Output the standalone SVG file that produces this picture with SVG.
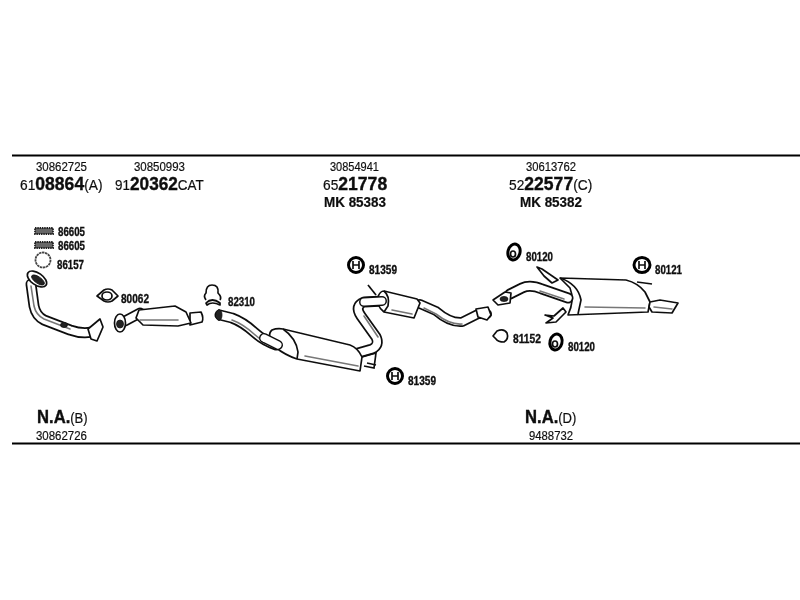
<svg xmlns="http://www.w3.org/2000/svg" width="800" height="600" viewBox="0 0 800 600">
<defs>
<filter id="soft" x="-5%" y="-5%" width="110%" height="110%"><feGaussianBlur stdDeviation="0.45"/></filter>
</defs>
<style>
text{font-family:"Liberation Sans",Arial,sans-serif;fill:#111}
.n{font-size:13px;stroke:#111;stroke-width:.2}
.h{font-size:14.5px;stroke:#111;stroke-width:.2}
.b{font-size:18.5px;font-weight:bold;stroke-width:.4}
.m{font-size:14.5px;font-weight:bold;stroke:#111;stroke-width:.2}
.l{font-size:12px;font-weight:bold;stroke:#111;stroke-width:.35}
.rule{stroke:#000;stroke-width:2.2;fill:none}
.o{fill:none;stroke:#111;stroke-linecap:round;stroke-linejoin:round}
.w{fill:none;stroke:#fff;stroke-linecap:round;stroke-linejoin:round}
.g{fill:none;stroke:#777;stroke-width:1.6;stroke-linecap:round;stroke-linejoin:round}
.f{fill:#fff;stroke:#111;stroke-width:1.7;stroke-linejoin:round}
.d{fill:#222;stroke:#111;stroke-width:.8}
.i{fill:#fff;stroke:#000;stroke-width:3}
.t{fill:none;stroke:#111;stroke-width:1.7}
</style>
<rect width="800" height="600" fill="#fff"/>
<g filter="url(#soft)">
<g id="rules">
<line class="rule" x1="12" y1="155.5" x2="800" y2="155.5"/>
<line class="rule" x1="12" y1="443.5" x2="800" y2="443.5"/>
</g>

<g id="header-1">
<text class="n" x="36" y="170.5" textLength="51" lengthAdjust="spacingAndGlyphs">30862725</text>
<text class="h" transform="translate(20 190) scale(.95 1)">61<tspan class="b">08864</tspan>(A)</text>
</g>
<g id="header-2">
<text class="n" x="134" y="170.5" textLength="51" lengthAdjust="spacingAndGlyphs">30850993</text>
<text class="h" transform="translate(115 190) scale(.93 1)">91<tspan class="b">20362</tspan>CAT</text>
</g>
<g id="header-3">
<text class="n" x="330" y="170.5" textLength="49" lengthAdjust="spacingAndGlyphs">30854941</text>
<text class="h" transform="translate(323 190) scale(.95 1)">65<tspan class="b">21778</tspan></text>
<text class="m" x="324" y="207" textLength="62" lengthAdjust="spacingAndGlyphs">MK 85383</text>
</g>
<g id="header-4">
<text class="n" x="526" y="170.5" textLength="50" lengthAdjust="spacingAndGlyphs">30613762</text>
<text class="h" transform="translate(509 190) scale(.95 1)">52<tspan class="b">22577</tspan>(C)</text>
<text class="m" x="520" y="207" textLength="62" lengthAdjust="spacingAndGlyphs">MK 85382</text>
</g>
<g id="footer-1">
<text class="h" transform="translate(37 423) scale(.9 1)"><tspan class="b">N.A.</tspan>(B)</text>
<text class="n" x="36" y="440" textLength="51" lengthAdjust="spacingAndGlyphs">30862726</text>
</g>
<g id="footer-2">
<text class="h" transform="translate(525 423) scale(.9 1)"><tspan class="b">N.A.</tspan>(D)</text>
<text class="n" x="529" y="440" textLength="44" lengthAdjust="spacingAndGlyphs">9488732</text>
</g>

<g id="gasket-86605a">
<rect x="35" y="228" width="18" height="6" fill="#666" stroke="#222" stroke-width="1.8" stroke-dasharray="1.5 .8"/>
<text class="l" x="58" y="235.5" textLength="27" lengthAdjust="spacingAndGlyphs">86605</text>
</g>
<g id="gasket-86605b">
<rect x="35" y="242" width="18" height="6" fill="#666" stroke="#222" stroke-width="1.8" stroke-dasharray="1.5 .8"/>
<text class="l" x="58" y="249.5" textLength="27" lengthAdjust="spacingAndGlyphs">86605</text>
</g>
<g id="ring-86157">
<circle cx="43" cy="260" r="7.5" fill="#fff" stroke="#444" stroke-width="1.8" stroke-dasharray="2.5 .6"/>
<text class="l" x="57" y="269" textLength="27" lengthAdjust="spacingAndGlyphs">86157</text>
</g>

<g id="front-pipe">
<path class="o" stroke-width="11" d="M31 284 L34 306 Q36 316 44 320 L70 330 Q84 335 96 331"/>
<path class="w" stroke-width="7.5" d="M31 284 L34 306 Q36 316 44 320 L70 330 Q84 335 96 331"/>
<path class="g" d="M31 286 L34 306 Q36 315 44 319 L70 329"/>
<ellipse class="f" cx="37" cy="279" rx="11" ry="6" transform="rotate(35 37 279)"/>
<ellipse class="d" cx="38" cy="280" rx="7.5" ry="3.2" transform="rotate(35 38 280)"/>
<path class="f" d="M88 329 L100 319 L103 327 L97 341 L91 339Z"/>
<ellipse class="d" cx="64" cy="325" rx="3.5" ry="2.5"/>
</g>

<g id="gasket-80062">
<path class="f" d="M97 296 L104 290 Q108 288 112 290 L118 296 L112 301 Q108 303 104 301Z"/>
<ellipse class="t" cx="107" cy="296" rx="5" ry="4"/>
<text class="l" x="121" y="303" textLength="28" lengthAdjust="spacingAndGlyphs">80062</text>
</g>

<g id="catalyst">
<path class="o" stroke-width="11" d="M125 321 L140 313"/>
<path class="w" stroke-width="7.5" d="M125 321 L140 313"/>
<path class="f" d="M190 313 L201 312 Q204 318 202 322 L190 325Z"/>
<path class="f" d="M139 310 L175 306 L186 312 L191 323 L178 326 L143 325 L136 318Z"/>
<path class="g" d="M140 320 L178 320"/>
<ellipse class="f" cx="120" cy="323" rx="5.5" ry="9"/>
<ellipse class="d" cx="120" cy="324" rx="3.5" ry="4"/>
</g>

<g id="clamp-82310">
<path class="t" d="M206 300 Q203 296 206 293 Q206 285 212 285 Q219 285 218 293 Q222 297 220 300"/>
<path class="f" d="M206 303 Q212 297 220 303 L220 305 Q212 301 207 305Z"/>
<text class="l" x="228" y="306" textLength="27" lengthAdjust="spacingAndGlyphs">82310</text>
</g>

<g id="middle-muffler">
<path class="o" stroke-width="11" d="M220 315 L232 318 Q243 322 254 332 Q264 341 276 345"/>
<path class="w" stroke-width="7.5" d="M220 315 L232 318 Q243 322 254 332 Q264 341 276 345"/>
<path class="g" d="M232 320 Q243 324 254 334 Q264 343 276 347"/>
<ellipse class="d" cx="219" cy="315" rx="3" ry="5.5"/>
<path class="o" stroke-width="11" d="M358 353 L372 349 Q380 345 376 337 L361 316 Q354 306 364 302 L384 301"/>
<path class="w" stroke-width="7.5" d="M358 353 L372 349 Q380 345 376 337 L361 316 Q354 306 364 302 L384 301"/>
<path class="g" d="M378 337 L364 316"/>
<path class="f" stroke-width="2" d="M283 329 L350 345 Q358 348 362 357 L360 371 L297 359 Q285 355 275 347 Q266 335 272 330 Q277 328 283 329Z"/>
<path class="t" d="M283 329 Q296 338 298 352 L297 359"/>
<path class="g" d="M305 356 L358 366"/>
<path class="o" stroke-width="10" d="M264 338 L278 345"/>
<path class="w" stroke-width="7" d="M264 338 L278 345"/>
<path class="t" d="M362 357 L376 353 L374 368 L364 366"/>
<line class="t" x1="367" y1="363" x2="376" y2="365"/>
</g>

<g id="rear-resonator">
<line class="t" x1="368" y1="285" x2="376" y2="295"/>
<path class="o" stroke-width="10" d="M420 304 L436 311 Q450 323 462 322 L478 314 L487 314"/>
<path class="w" stroke-width="6.5" d="M420 304 L436 311 Q450 323 462 322 L478 314 L487 314"/>
<path class="g" d="M424 308 L436 314 Q450 325 462 324"/>
<path class="f" stroke-width="2" d="M384 291 L417 299 L420 303 L414 318 L384 312 Q376 306 378 297 Q380 291 384 291Z"/>
<path class="t" d="M384 291 Q390 296 388 306 L384 312"/>
<path class="g" d="M392 310 L412 314"/>
<path class="o" stroke-width="10" d="M364 302 L382 301"/>
<path class="w" stroke-width="7" d="M364 302 L382 301"/>
<path class="f" d="M476 309 L488 307 L491 315 L487 320 L478 317Z"/>
</g>

<g id="rear-muffler">
<path class="f" stroke-width="2" d="M560 278 L626 280 Q638 283 645 292 L650 302 L648 312 L568 315 Q575 300 570 288Z"/>
<path class="t" d="M560 278 Q578 284 581 300 L578 314"/>
<path class="g" stroke-width="2" d="M585 307 L645 308"/>
<path class="f" d="M650 302 L660 300 L678 303 L672 313 L652 312 L649 307Z"/>
<path class="g" d="M654 307 L672 309"/>
<path class="f" d="M537 267 L542 269 L558 280 L552 283 L544 276Z"/>
<path class="f" d="M545 315 L554 316 L563 308 L566 312 L556 322 L546 323 L553 318Z"/>
<line class="t" x1="637" y1="282" x2="652" y2="284"/>
<path class="o" stroke-width="11" d="M510 294 L522 288 Q530 284 542 289 L568 298"/>
<path class="w" stroke-width="7.5" d="M510 294 L522 288 Q530 284 542 289 L568 298"/>
<path class="g" d="M540 291 L564 299"/>
<path class="f" d="M493 300 L505 292 L511 293 L510 303 L498 305Z"/>
<ellipse class="d" cx="504" cy="299" rx="4" ry="2.5"/>
</g>

<g id="rubber-81359a">
<ellipse class="i" cx="356" cy="265" rx="7.5" ry="7.5"/>
<path class="t" stroke-width="2.2" d="M353 261 V269 M359 261 V269 M353 265 H359"/>
<text class="l" x="369" y="274" textLength="28" lengthAdjust="spacingAndGlyphs">81359</text>
</g>
<g id="rubber-81359b">
<ellipse class="i" cx="395" cy="376" rx="7.5" ry="7.5"/>
<path class="t" stroke-width="2.2" d="M392 372 V380 M398 372 V380 M392 376 H398"/>
<text class="l" x="408" y="385" textLength="28" lengthAdjust="spacingAndGlyphs">81359</text>
</g>
<g id="rubber-80120a">
<ellipse class="i" cx="514" cy="252" rx="6" ry="8" transform="rotate(15 514 252)"/>
<ellipse class="t" cx="513" cy="254" rx="2.5" ry="3"/>
<text class="l" x="526" y="261" textLength="27" lengthAdjust="spacingAndGlyphs">80120</text>
</g>
<g id="rubber-80120b">
<ellipse class="i" cx="556" cy="342" rx="6" ry="8" transform="rotate(15 556 342)"/>
<ellipse class="t" cx="555" cy="344" rx="2.5" ry="3"/>
<text class="l" x="568" y="351" textLength="27" lengthAdjust="spacingAndGlyphs">80120</text>
</g>
<g id="rubber-80121">
<ellipse class="i" cx="642" cy="265" rx="8" ry="7.5"/>
<path class="t" stroke-width="2.2" d="M639 261 V269 M645 261 V269 M639 265 H645"/>
<text class="l" x="655" y="274" textLength="27" lengthAdjust="spacingAndGlyphs">80121</text>
</g>
<g id="ring-81152">
<path class="f" d="M493 336 L497 331 Q504 328 507 333 Q509 339 504 342 Q498 342 496 339Z"/>
<text class="l" x="513" y="343" textLength="28" lengthAdjust="spacingAndGlyphs">81152</text>
</g>
</g>
</svg>
